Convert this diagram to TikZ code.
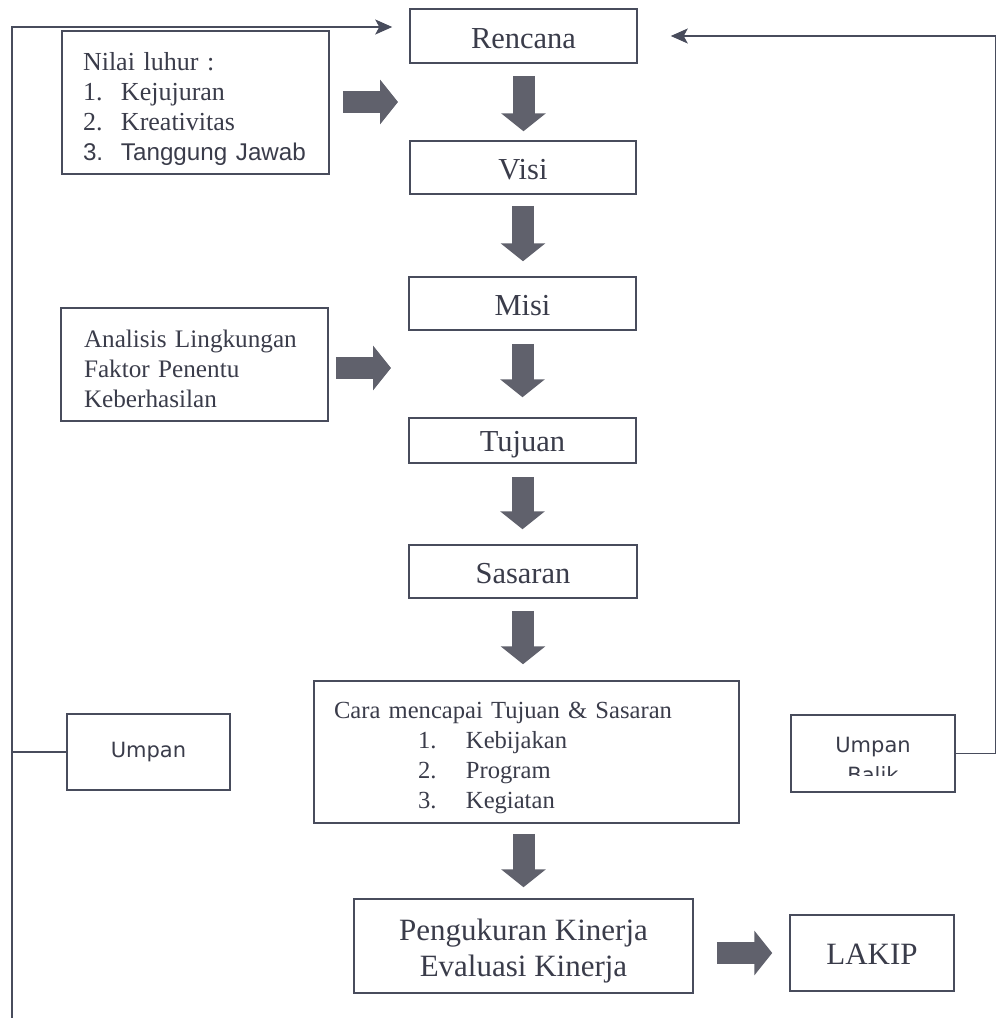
\documentclass[tikz,border=0pt]{standalone}
\usepackage{fontspec}
\setmainfont{Liberation Serif}
\newfontfamily\sansA{Liberation Sans}
\newfontfamily\sansB{DejaVu Sans}
\usetikzlibrary{arrows.meta}
\definecolor{ln}{RGB}{72,76,92}
\definecolor{tx}{RGB}{58,60,74}
\definecolor{blk}{RGB}{96,97,108}
\begin{document}
\begin{tikzpicture}[x=1pt,y=-1pt,
  box/.style={draw=ln, line width=1.5pt, text=tx, inner sep=0pt, font=\fontsize{30.5}{36}\selectfont},
  single/.style={box, text height=24pt, text depth=0pt},
  sidebox/.style={box, align=left, font=\fontsize{25.5}{30}\selectfont},
  sansbox/.style={box, font=\sansB\fontsize{21}{30}\selectfont},
  blkarrow/.style={color=blk, line width=22pt, -{Triangle[length=18pt,width=44pt]}},
  thinline/.style={draw=ln, line width=1.5pt},
  thinarrow/.style={thinline, -{Stealth[length=17pt,width=15pt,inset=4pt]}}]
\useasboundingbox (0,0) rectangle (996,1018);

% main column
\node[single, minimum width=227pt, minimum height=54pt] (rencana) at (523.5,36) {Rencana};
\node[single, minimum width=226pt, minimum height=53pt] (visi) at (523,167.5) {Visi};
\node[single, minimum width=227pt, minimum height=53pt] (misi) at (522.5,303.5) {Misi};
\node[single, minimum width=227pt, minimum height=45pt, text height=21pt] (tujuan) at (522.5,440.5) {Tujuan};
\node[single, minimum width=228pt, minimum height=53pt] (sasaran) at (523,571.5) {Sasaran};
\node[sidebox, minimum width=425pt, minimum height=142pt, text width=385pt, font=\fontsize{24.6}{30}\selectfont] (cara) at (526.5,752)
  {\rule{0pt}{29pt}Cara mencapai Tujuan \& Sasaran\\
   \hspace*{84pt}\makebox[48pt][l]{1.}Kebijakan\\
   \hspace*{84pt}\makebox[48pt][l]{2.}Program\\
   \hspace*{84pt}\makebox[48pt][l]{3.}Kegiatan};
\node[box, minimum width=339pt, minimum height=94pt, align=center, font=\fontsize{31}{36}\selectfont] (peng) at (523.5,946)
  {\rule{0pt}{31pt}Pengukuran Kinerja\\Evaluasi Kinerja};
\node[single, minimum width=164pt, minimum height=76pt, font=\fontsize{31}{36}\selectfont, text height=22pt] (lakip) at (872,953) {LAKIP};

% side boxes
\node[sidebox, minimum width=267pt, minimum height=143pt, text width=225pt, font=\fontsize{26}{30}\selectfont] (nilai) at (195.5,102.5)
  {\rule{0pt}{31pt}Nilai luhur :\\
   \makebox[38pt][l]{1.}Kejujuran\\
   \makebox[38pt][l]{2.}Kreativitas\\
   {\sansA\fontsize{24.2}{30}\selectfont\makebox[38pt][l]{3.}Tanggung Jawab}};
\node[sidebox, minimum width=267pt, minimum height=113pt, text width=221pt, font=\fontsize{25.2}{30}\selectfont] (analisis) at (194.5,364.5)
  {\rule{0pt}{26pt}Analisis Lingkungan\\Faktor Penentu\\Keberhasilan};
\node[sansbox, minimum width=163pt, minimum height=76pt] (umpan) at (148.5,752) {Umpan};
\node[sansbox, minimum width=164pt, minimum height=77pt] (ub) at (873,753.5) {};
\begin{scope}
  \clip (791,716) rectangle (955,775);
  \node[text=tx, inner sep=0pt, align=center, font=\sansB\fontsize{21}{30}\selectfont, anchor=base] (ubtext) at (873,782) {Umpan\\Balik};
\end{scope}

% block arrows, main column
\draw[blkarrow, shorten <=12pt, shorten >=9pt] (rencana.south) -- (rencana.south |- visi.north);
\draw[blkarrow, shorten <=11pt, shorten >=15pt] (visi.south) -- (visi.south |- misi.north);
\draw[blkarrow, shorten <=13pt, shorten >=20pt] (misi.south) -- (misi.south |- tujuan.north);
\draw[blkarrow, shorten <=13pt, shorten >=15pt] (tujuan.south) -- (tujuan.south |- sasaran.north);
\draw[blkarrow, shorten <=12pt, shorten >=16pt] (sasaran.south) -- (sasaran.south |- cara.north);
\draw[blkarrow, shorten <=10pt, shorten >=11pt] (peng.north |- cara.south) -- (peng.north);

% side block arrows
\coordinate (nilaitip) at (398,102);
\coordinate (analisistip) at (391,368);
\draw[blkarrow, shorten <=13pt] (nilai.east |- nilaitip) -- (nilaitip);
\draw[blkarrow, shorten <=7pt] (analisis.east |- analisistip) -- (analisistip);
\draw[blkarrow, shorten <=23pt, shorten >=17pt] (lakip.west -| peng.east) -- (lakip.west);

% feedback lines
\coordinate (lb) at (12,1018);
\coordinate (lt) at (12,27);
\coordinate (rt) at (996,36);
\draw[thinarrow, shorten >=17pt] (lb) -- (lt) -- (lt -| rencana.west);
\draw[thinline] (umpan.west) -- (umpan.west -| lt);
\draw[thinarrow, shorten >=33pt] (ub.east) -- (ub.east -| rt) -- (rt) -- (rencana.east);
\end{tikzpicture}
\end{document}
